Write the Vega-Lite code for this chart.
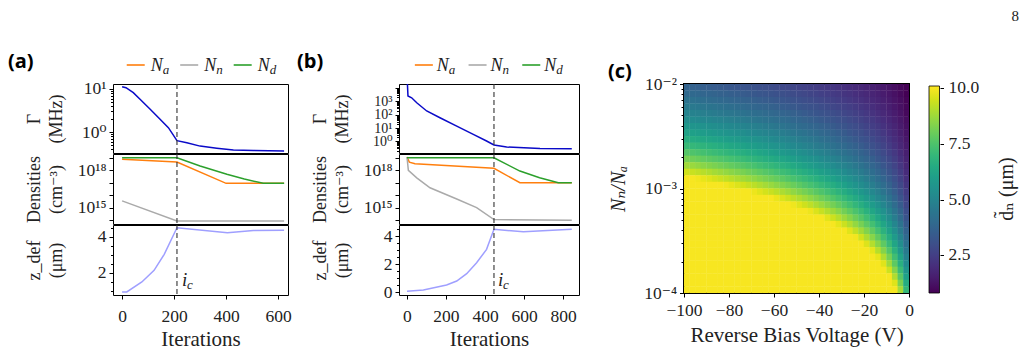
{
  "$schema": "https://vega.github.io/schema/vega-lite/v6.json",
  "autosize": {"type": "pad"},
  "padding": {"left": 8, "top": 8, "right": 4, "bottom": 4},
  "background": "white",
  "spacing": 5,
  "resolve": {"scale": {"color": "independent"}, "legend": {"color": "independent"}},
  "datasets": {
    "keys": [
      {"key": "Na", "base": "N", "sub": "a"},
      {"key": "Nn", "base": "N", "sub": "n"},
      {"key": "Nd", "base": "N", "sub": "d"}
    ],
    "icA": [{"ic": 211}],
    "icB": [{"ic": 446}],
    "gA": [
      {"it": 0, "g": 11.3}, {"it": 15, "g": 10.7}, {"it": 43, "g": 8.2}, {"it": 69, "g": 5.75},
      {"it": 108, "g": 3.38}, {"it": 146, "g": 1.97}, {"it": 178, "g": 1.26}, {"it": 211, "g": 0.63},
      {"it": 249, "g": 0.56}, {"it": 300, "g": 0.47}, {"it": 364, "g": 0.42}, {"it": 428, "g": 0.38},
      {"it": 505, "g": 0.37}, {"it": 623, "g": 0.36}
    ],
    "dA": [
      {"it": 0, "key": "Na", "n": 7.6e18}, {"it": 211, "key": "Na", "n": 4.7e18}, {"it": 400, "key": "Na", "n": 9e16}, {"it": 623, "key": "Na", "n": 9e16},
      {"it": 0, "key": "Nn", "n": 3.5e15}, {"it": 211, "key": "Nn", "n": 8.5e13}, {"it": 623, "key": "Nn", "n": 8.5e13},
      {"it": 0, "key": "Nd", "n": 1.02e19}, {"it": 211, "key": "Nd", "n": 1.0e19}, {"it": 300, "key": "Nd", "n": 2.2e18}, {"it": 403, "key": "Nd", "n": 4.8e17},
      {"it": 470, "key": "Nd", "n": 2.0e17}, {"it": 543, "key": "Nd", "n": 9e16}, {"it": 623, "key": "Nd", "n": 9e16}
    ],
    "zA": [
      {"it": 0, "z": 0.92}, {"it": 18, "z": 0.92}, {"it": 76, "z": 1.48}, {"it": 123, "z": 2.13},
      {"it": 162, "z": 3.03}, {"it": 211, "z": 4.52}, {"it": 405, "z": 4.24}, {"it": 505, "z": 4.36}, {"it": 623, "z": 4.38}
    ],
    "gB": [
      {"it": 0, "g": 100000}, {"it": 5, "g": 2500}, {"it": 24, "g": 1860}, {"it": 50, "g": 790},
      {"it": 101, "g": 190}, {"it": 169, "g": 59}, {"it": 255, "g": 14}, {"it": 340, "g": 3.4},
      {"it": 408, "g": 1.07}, {"it": 446, "g": 0.54}, {"it": 511, "g": 0.38}, {"it": 682, "g": 0.29}, {"it": 845, "g": 0.28}
    ],
    "dB": [
      {"it": 0, "key": "Na", "n": 1.17e19}, {"it": 12, "key": "Na", "n": 4.5e18}, {"it": 41, "key": "Na", "n": 3.4e18}, {"it": 446, "key": "Na", "n": 1.45e18},
      {"it": 579, "key": "Na", "n": 1e17}, {"it": 845, "key": "Na", "n": 1e17},
      {"it": 0, "key": "Nn", "n": 1.17e19}, {"it": 7, "key": "Nn", "n": 1e18}, {"it": 50, "key": "Nn", "n": 2.5e17}, {"it": 118, "key": "Nn", "n": 4e16},
      {"it": 255, "key": "Nn", "n": 5e15}, {"it": 357, "key": "Nn", "n": 1e15}, {"it": 446, "key": "Nn", "n": 1.1e14}, {"it": 845, "key": "Nn", "n": 1e14},
      {"it": 0, "key": "Nd", "n": 1.02e19}, {"it": 446, "key": "Nd", "n": 1.0e19}, {"it": 579, "key": "Nd", "n": 8.7e17}, {"it": 680, "key": "Nd", "n": 2.5e17},
      {"it": 776, "key": "Nd", "n": 1e17}, {"it": 845, "key": "Nd", "n": 1e17}
    ],
    "zB": [
      {"it": 0, "z": 0.05}, {"it": 84, "z": 0.14}, {"it": 203, "z": 0.5}, {"it": 255, "z": 0.79},
      {"it": 306, "z": 1.31}, {"it": 357, "z": 2.09}, {"it": 408, "z": 3.05}, {"it": 446, "z": 4.48},
      {"it": 597, "z": 4.31}, {"it": 845, "z": 4.48}
    ],
    "heat": [
{"v":-98.75,"r":0.009306,"d":3.71},{"v":-96.25,"r":0.009306,"d":3.66},{"v":-93.75,"r":0.009306,"d":3.62},{"v":-91.25,"r":0.009306,"d":3.57},{"v":-88.75,"r":0.009306,"d":3.52},{"v":-86.25,"r":0.009306,"d":3.47},{"v":-83.75,"r":0.009306,"d":3.42},{"v":-81.25,"r":0.009306,"d":3.38},{"v":-78.75,"r":0.009306,"d":3.32},{"v":-76.25,"r":0.009306,"d":3.27},{"v":-73.75,"r":0.009306,"d":3.22},{"v":-71.25,"r":0.009306,"d":3.17},{"v":-68.75,"r":0.009306,"d":3.11},{"v":-66.25,"r":0.009306,"d":3.06},{"v":-63.75,"r":0.009306,"d":3.0},{"v":-61.25,"r":0.009306,"d":2.95},{"v":-58.75,"r":0.009306,"d":2.89},{"v":-56.25,"r":0.009306,"d":2.83},{"v":-53.75,"r":0.009306,"d":2.77},{"v":-51.25,"r":0.009306,"d":2.71},{"v":-48.75,"r":0.009306,"d":2.64},{"v":-46.25,"r":0.009306,"d":2.58},{"v":-43.75,"r":0.009306,"d":2.51},{"v":-41.25,"r":0.009306,"d":2.45},{"v":-38.75,"r":0.009306,"d":2.37},{"v":-36.25,"r":0.009306,"d":2.3},{"v":-33.75,"r":0.009306,"d":2.23},{"v":-31.25,"r":0.009306,"d":2.15},{"v":-28.75,"r":0.009306,"d":2.07},{"v":-26.25,"r":0.009306,"d":1.99},{"v":-23.75,"r":0.009306,"d":1.9},{"v":-21.25,"r":0.009306,"d":1.81},{"v":-18.75,"r":0.009306,"d":1.71},{"v":-16.25,"r":0.009306,"d":1.61},{"v":-13.75,"r":0.009306,"d":1.5},{"v":-11.25,"r":0.009306,"d":1.39},{"v":-8.75,"r":0.009306,"d":1.26},{"v":-6.25,"r":0.009306,"d":1.12},{"v":-3.75,"r":0.009306,"d":0.95},{"v":-1.25,"r":0.009306,"d":0.75},
{"v":-98.75,"r":0.008058,"d":3.99},{"v":-96.25,"r":0.008058,"d":3.94},{"v":-93.75,"r":0.008058,"d":3.89},{"v":-91.25,"r":0.008058,"d":3.84},{"v":-88.75,"r":0.008058,"d":3.79},{"v":-86.25,"r":0.008058,"d":3.73},{"v":-83.75,"r":0.008058,"d":3.68},{"v":-81.25,"r":0.008058,"d":3.63},{"v":-78.75,"r":0.008058,"d":3.57},{"v":-76.25,"r":0.008058,"d":3.52},{"v":-73.75,"r":0.008058,"d":3.46},{"v":-71.25,"r":0.008058,"d":3.4},{"v":-68.75,"r":0.008058,"d":3.35},{"v":-66.25,"r":0.008058,"d":3.29},{"v":-63.75,"r":0.008058,"d":3.23},{"v":-61.25,"r":0.008058,"d":3.17},{"v":-58.75,"r":0.008058,"d":3.1},{"v":-56.25,"r":0.008058,"d":3.04},{"v":-53.75,"r":0.008058,"d":2.98},{"v":-51.25,"r":0.008058,"d":2.91},{"v":-48.75,"r":0.008058,"d":2.84},{"v":-46.25,"r":0.008058,"d":2.77},{"v":-43.75,"r":0.008058,"d":2.7},{"v":-41.25,"r":0.008058,"d":2.63},{"v":-38.75,"r":0.008058,"d":2.55},{"v":-36.25,"r":0.008058,"d":2.47},{"v":-33.75,"r":0.008058,"d":2.39},{"v":-31.25,"r":0.008058,"d":2.31},{"v":-28.75,"r":0.008058,"d":2.22},{"v":-26.25,"r":0.008058,"d":2.14},{"v":-23.75,"r":0.008058,"d":2.04},{"v":-21.25,"r":0.008058,"d":1.94},{"v":-18.75,"r":0.008058,"d":1.84},{"v":-16.25,"r":0.008058,"d":1.73},{"v":-13.75,"r":0.008058,"d":1.61},{"v":-11.25,"r":0.008058,"d":1.49},{"v":-8.75,"r":0.008058,"d":1.35},{"v":-6.25,"r":0.008058,"d":1.2},{"v":-3.75,"r":0.008058,"d":1.02},{"v":-1.25,"r":0.008058,"d":0.81},
{"v":-98.75,"r":0.006978,"d":4.28},{"v":-96.25,"r":0.006978,"d":4.23},{"v":-93.75,"r":0.006978,"d":4.18},{"v":-91.25,"r":0.006978,"d":4.12},{"v":-88.75,"r":0.006978,"d":4.07},{"v":-86.25,"r":0.006978,"d":4.01},{"v":-83.75,"r":0.006978,"d":3.95},{"v":-81.25,"r":0.006978,"d":3.9},{"v":-78.75,"r":0.006978,"d":3.84},{"v":-76.25,"r":0.006978,"d":3.78},{"v":-73.75,"r":0.006978,"d":3.72},{"v":-71.25,"r":0.006978,"d":3.66},{"v":-68.75,"r":0.006978,"d":3.6},{"v":-66.25,"r":0.006978,"d":3.53},{"v":-63.75,"r":0.006978,"d":3.47},{"v":-61.25,"r":0.006978,"d":3.4},{"v":-58.75,"r":0.006978,"d":3.34},{"v":-56.25,"r":0.006978,"d":3.27},{"v":-53.75,"r":0.006978,"d":3.2},{"v":-51.25,"r":0.006978,"d":3.13},{"v":-48.75,"r":0.006978,"d":3.05},{"v":-46.25,"r":0.006978,"d":2.98},{"v":-43.75,"r":0.006978,"d":2.9},{"v":-41.25,"r":0.006978,"d":2.82},{"v":-38.75,"r":0.006978,"d":2.74},{"v":-36.25,"r":0.006978,"d":2.66},{"v":-33.75,"r":0.006978,"d":2.57},{"v":-31.25,"r":0.006978,"d":2.48},{"v":-28.75,"r":0.006978,"d":2.39},{"v":-26.25,"r":0.006978,"d":2.29},{"v":-23.75,"r":0.006978,"d":2.19},{"v":-21.25,"r":0.006978,"d":2.09},{"v":-18.75,"r":0.006978,"d":1.98},{"v":-16.25,"r":0.006978,"d":1.86},{"v":-13.75,"r":0.006978,"d":1.73},{"v":-11.25,"r":0.006978,"d":1.6},{"v":-8.75,"r":0.006978,"d":1.45},{"v":-6.25,"r":0.006978,"d":1.29},{"v":-3.75,"r":0.006978,"d":1.1},{"v":-1.25,"r":0.006978,"d":0.87},
{"v":-98.75,"r":0.006043,"d":4.6},{"v":-96.25,"r":0.006043,"d":4.55},{"v":-93.75,"r":0.006043,"d":4.49},{"v":-91.25,"r":0.006043,"d":4.43},{"v":-88.75,"r":0.006043,"d":4.37},{"v":-86.25,"r":0.006043,"d":4.31},{"v":-83.75,"r":0.006043,"d":4.25},{"v":-81.25,"r":0.006043,"d":4.19},{"v":-78.75,"r":0.006043,"d":4.13},{"v":-76.25,"r":0.006043,"d":4.06},{"v":-73.75,"r":0.006043,"d":4.0},{"v":-71.25,"r":0.006043,"d":3.93},{"v":-68.75,"r":0.006043,"d":3.86},{"v":-66.25,"r":0.006043,"d":3.8},{"v":-63.75,"r":0.006043,"d":3.73},{"v":-61.25,"r":0.006043,"d":3.66},{"v":-58.75,"r":0.006043,"d":3.59},{"v":-56.25,"r":0.006043,"d":3.51},{"v":-53.75,"r":0.006043,"d":3.44},{"v":-51.25,"r":0.006043,"d":3.36},{"v":-48.75,"r":0.006043,"d":3.28},{"v":-46.25,"r":0.006043,"d":3.2},{"v":-43.75,"r":0.006043,"d":3.12},{"v":-41.25,"r":0.006043,"d":3.03},{"v":-38.75,"r":0.006043,"d":2.95},{"v":-36.25,"r":0.006043,"d":2.86},{"v":-33.75,"r":0.006043,"d":2.76},{"v":-31.25,"r":0.006043,"d":2.67},{"v":-28.75,"r":0.006043,"d":2.57},{"v":-26.25,"r":0.006043,"d":2.47},{"v":-23.75,"r":0.006043,"d":2.36},{"v":-21.25,"r":0.006043,"d":2.24},{"v":-18.75,"r":0.006043,"d":2.13},{"v":-16.25,"r":0.006043,"d":2.0},{"v":-13.75,"r":0.006043,"d":1.86},{"v":-11.25,"r":0.006043,"d":1.72},{"v":-8.75,"r":0.006043,"d":1.56},{"v":-6.25,"r":0.006043,"d":1.38},{"v":-3.75,"r":0.006043,"d":1.18},{"v":-1.25,"r":0.006043,"d":0.93},
{"v":-98.75,"r":0.005233,"d":4.95},{"v":-96.25,"r":0.005233,"d":4.89},{"v":-93.75,"r":0.005233,"d":4.82},{"v":-91.25,"r":0.005233,"d":4.76},{"v":-88.75,"r":0.005233,"d":4.7},{"v":-86.25,"r":0.005233,"d":4.63},{"v":-83.75,"r":0.005233,"d":4.57},{"v":-81.25,"r":0.005233,"d":4.5},{"v":-78.75,"r":0.005233,"d":4.43},{"v":-76.25,"r":0.005233,"d":4.36},{"v":-73.75,"r":0.005233,"d":4.3},{"v":-71.25,"r":0.005233,"d":4.22},{"v":-68.75,"r":0.005233,"d":4.15},{"v":-66.25,"r":0.005233,"d":4.08},{"v":-63.75,"r":0.005233,"d":4.0},{"v":-61.25,"r":0.005233,"d":3.93},{"v":-58.75,"r":0.005233,"d":3.85},{"v":-56.25,"r":0.005233,"d":3.77},{"v":-53.75,"r":0.005233,"d":3.69},{"v":-51.25,"r":0.005233,"d":3.61},{"v":-48.75,"r":0.005233,"d":3.53},{"v":-46.25,"r":0.005233,"d":3.44},{"v":-43.75,"r":0.005233,"d":3.35},{"v":-41.25,"r":0.005233,"d":3.26},{"v":-38.75,"r":0.005233,"d":3.17},{"v":-36.25,"r":0.005233,"d":3.07},{"v":-33.75,"r":0.005233,"d":2.97},{"v":-31.25,"r":0.005233,"d":2.87},{"v":-28.75,"r":0.005233,"d":2.76},{"v":-26.25,"r":0.005233,"d":2.65},{"v":-23.75,"r":0.005233,"d":2.53},{"v":-21.25,"r":0.005233,"d":2.41},{"v":-18.75,"r":0.005233,"d":2.28},{"v":-16.25,"r":0.005233,"d":2.15},{"v":-13.75,"r":0.005233,"d":2.0},{"v":-11.25,"r":0.005233,"d":1.85},{"v":-8.75,"r":0.005233,"d":1.68},{"v":-6.25,"r":0.005233,"d":1.49},{"v":-3.75,"r":0.005233,"d":1.27},{"v":-1.25,"r":0.005233,"d":1.0},
{"v":-98.75,"r":0.004532,"d":5.32},{"v":-96.25,"r":0.004532,"d":5.25},{"v":-93.75,"r":0.004532,"d":5.18},{"v":-91.25,"r":0.004532,"d":5.11},{"v":-88.75,"r":0.004532,"d":5.05},{"v":-86.25,"r":0.004532,"d":4.98},{"v":-83.75,"r":0.004532,"d":4.91},{"v":-81.25,"r":0.004532,"d":4.84},{"v":-78.75,"r":0.004532,"d":4.76},{"v":-76.25,"r":0.004532,"d":4.69},{"v":-73.75,"r":0.004532,"d":4.62},{"v":-71.25,"r":0.004532,"d":4.54},{"v":-68.75,"r":0.004532,"d":4.46},{"v":-66.25,"r":0.004532,"d":4.38},{"v":-63.75,"r":0.004532,"d":4.3},{"v":-61.25,"r":0.004532,"d":4.22},{"v":-58.75,"r":0.004532,"d":4.14},{"v":-56.25,"r":0.004532,"d":4.06},{"v":-53.75,"r":0.004532,"d":3.97},{"v":-51.25,"r":0.004532,"d":3.88},{"v":-48.75,"r":0.004532,"d":3.79},{"v":-46.25,"r":0.004532,"d":3.7},{"v":-43.75,"r":0.004532,"d":3.6},{"v":-41.25,"r":0.004532,"d":3.5},{"v":-38.75,"r":0.004532,"d":3.4},{"v":-36.25,"r":0.004532,"d":3.3},{"v":-33.75,"r":0.004532,"d":3.19},{"v":-31.25,"r":0.004532,"d":3.08},{"v":-28.75,"r":0.004532,"d":2.97},{"v":-26.25,"r":0.004532,"d":2.85},{"v":-23.75,"r":0.004532,"d":2.72},{"v":-21.25,"r":0.004532,"d":2.59},{"v":-18.75,"r":0.004532,"d":2.45},{"v":-16.25,"r":0.004532,"d":2.31},{"v":-13.75,"r":0.004532,"d":2.15},{"v":-11.25,"r":0.004532,"d":1.99},{"v":-8.75,"r":0.004532,"d":1.8},{"v":-6.25,"r":0.004532,"d":1.6},{"v":-3.75,"r":0.004532,"d":1.36},{"v":-1.25,"r":0.004532,"d":1.08},
{"v":-98.75,"r":0.003924,"d":5.71},{"v":-96.25,"r":0.003924,"d":5.64},{"v":-93.75,"r":0.003924,"d":5.57},{"v":-91.25,"r":0.003924,"d":5.5},{"v":-88.75,"r":0.003924,"d":5.42},{"v":-86.25,"r":0.003924,"d":5.35},{"v":-83.75,"r":0.003924,"d":5.27},{"v":-81.25,"r":0.003924,"d":5.2},{"v":-78.75,"r":0.003924,"d":5.12},{"v":-76.25,"r":0.003924,"d":5.04},{"v":-73.75,"r":0.003924,"d":4.96},{"v":-71.25,"r":0.003924,"d":4.88},{"v":-68.75,"r":0.003924,"d":4.8},{"v":-66.25,"r":0.003924,"d":4.71},{"v":-63.75,"r":0.003924,"d":4.62},{"v":-61.25,"r":0.003924,"d":4.54},{"v":-58.75,"r":0.003924,"d":4.45},{"v":-56.25,"r":0.003924,"d":4.36},{"v":-53.75,"r":0.003924,"d":4.26},{"v":-51.25,"r":0.003924,"d":4.17},{"v":-48.75,"r":0.003924,"d":4.07},{"v":-46.25,"r":0.003924,"d":3.97},{"v":-43.75,"r":0.003924,"d":3.87},{"v":-41.25,"r":0.003924,"d":3.77},{"v":-38.75,"r":0.003924,"d":3.66},{"v":-36.25,"r":0.003924,"d":3.55},{"v":-33.75,"r":0.003924,"d":3.43},{"v":-31.25,"r":0.003924,"d":3.31},{"v":-28.75,"r":0.003924,"d":3.19},{"v":-26.25,"r":0.003924,"d":3.06},{"v":-23.75,"r":0.003924,"d":2.93},{"v":-21.25,"r":0.003924,"d":2.79},{"v":-18.75,"r":0.003924,"d":2.64},{"v":-16.25,"r":0.003924,"d":2.48},{"v":-13.75,"r":0.003924,"d":2.31},{"v":-11.25,"r":0.003924,"d":2.13},{"v":-8.75,"r":0.003924,"d":1.94},{"v":-6.25,"r":0.003924,"d":1.72},{"v":-3.75,"r":0.003924,"d":1.47},{"v":-1.25,"r":0.003924,"d":1.16},
{"v":-98.75,"r":0.003398,"d":6.14},{"v":-96.25,"r":0.003398,"d":6.06},{"v":-93.75,"r":0.003398,"d":5.99},{"v":-91.25,"r":0.003398,"d":5.91},{"v":-88.75,"r":0.003398,"d":5.83},{"v":-86.25,"r":0.003398,"d":5.75},{"v":-83.75,"r":0.003398,"d":5.67},{"v":-81.25,"r":0.003398,"d":5.59},{"v":-78.75,"r":0.003398,"d":5.5},{"v":-76.25,"r":0.003398,"d":5.42},{"v":-73.75,"r":0.003398,"d":5.33},{"v":-71.25,"r":0.003398,"d":5.24},{"v":-68.75,"r":0.003398,"d":5.15},{"v":-66.25,"r":0.003398,"d":5.06},{"v":-63.75,"r":0.003398,"d":4.97},{"v":-61.25,"r":0.003398,"d":4.88},{"v":-58.75,"r":0.003398,"d":4.78},{"v":-56.25,"r":0.003398,"d":4.68},{"v":-53.75,"r":0.003398,"d":4.58},{"v":-51.25,"r":0.003398,"d":4.48},{"v":-48.75,"r":0.003398,"d":4.38},{"v":-46.25,"r":0.003398,"d":4.27},{"v":-43.75,"r":0.003398,"d":4.16},{"v":-41.25,"r":0.003398,"d":4.05},{"v":-38.75,"r":0.003398,"d":3.93},{"v":-36.25,"r":0.003398,"d":3.81},{"v":-33.75,"r":0.003398,"d":3.69},{"v":-31.25,"r":0.003398,"d":3.56},{"v":-28.75,"r":0.003398,"d":3.43},{"v":-26.25,"r":0.003398,"d":3.29},{"v":-23.75,"r":0.003398,"d":3.14},{"v":-21.25,"r":0.003398,"d":2.99},{"v":-18.75,"r":0.003398,"d":2.83},{"v":-16.25,"r":0.003398,"d":2.67},{"v":-13.75,"r":0.003398,"d":2.49},{"v":-11.25,"r":0.003398,"d":2.29},{"v":-8.75,"r":0.003398,"d":2.08},{"v":-6.25,"r":0.003398,"d":1.85},{"v":-3.75,"r":0.003398,"d":1.57},{"v":-1.25,"r":0.003398,"d":1.25},
{"v":-98.75,"r":0.002943,"d":6.6},{"v":-96.25,"r":0.002943,"d":6.51},{"v":-93.75,"r":0.002943,"d":6.43},{"v":-91.25,"r":0.002943,"d":6.35},{"v":-88.75,"r":0.002943,"d":6.26},{"v":-86.25,"r":0.002943,"d":6.18},{"v":-83.75,"r":0.002943,"d":6.09},{"v":-81.25,"r":0.002943,"d":6.0},{"v":-78.75,"r":0.002943,"d":5.91},{"v":-76.25,"r":0.002943,"d":5.82},{"v":-73.75,"r":0.002943,"d":5.73},{"v":-71.25,"r":0.002943,"d":5.63},{"v":-68.75,"r":0.002943,"d":5.54},{"v":-66.25,"r":0.002943,"d":5.44},{"v":-63.75,"r":0.002943,"d":5.34},{"v":-61.25,"r":0.002943,"d":5.24},{"v":-58.75,"r":0.002943,"d":5.14},{"v":-56.25,"r":0.002943,"d":5.03},{"v":-53.75,"r":0.002943,"d":4.92},{"v":-51.25,"r":0.002943,"d":4.82},{"v":-48.75,"r":0.002943,"d":4.7},{"v":-46.25,"r":0.002943,"d":4.59},{"v":-43.75,"r":0.002943,"d":4.47},{"v":-41.25,"r":0.002943,"d":4.35},{"v":-38.75,"r":0.002943,"d":4.22},{"v":-36.25,"r":0.002943,"d":4.09},{"v":-33.75,"r":0.002943,"d":3.96},{"v":-31.25,"r":0.002943,"d":3.83},{"v":-28.75,"r":0.002943,"d":3.68},{"v":-26.25,"r":0.002943,"d":3.53},{"v":-23.75,"r":0.002943,"d":3.38},{"v":-21.25,"r":0.002943,"d":3.22},{"v":-18.75,"r":0.002943,"d":3.05},{"v":-16.25,"r":0.002943,"d":2.86},{"v":-13.75,"r":0.002943,"d":2.67},{"v":-11.25,"r":0.002943,"d":2.46},{"v":-8.75,"r":0.002943,"d":2.24},{"v":-6.25,"r":0.002943,"d":1.98},{"v":-3.75,"r":0.002943,"d":1.69},{"v":-1.25,"r":0.002943,"d":1.34},
{"v":-98.75,"r":0.002548,"d":7.09},{"v":-96.25,"r":0.002548,"d":7.0},{"v":-93.75,"r":0.002548,"d":6.91},{"v":-91.25,"r":0.002548,"d":6.82},{"v":-88.75,"r":0.002548,"d":6.73},{"v":-86.25,"r":0.002548,"d":6.64},{"v":-83.75,"r":0.002548,"d":6.54},{"v":-81.25,"r":0.002548,"d":6.45},{"v":-78.75,"r":0.002548,"d":6.35},{"v":-76.25,"r":0.002548,"d":6.25},{"v":-73.75,"r":0.002548,"d":6.16},{"v":-71.25,"r":0.002548,"d":6.05},{"v":-68.75,"r":0.002548,"d":5.95},{"v":-66.25,"r":0.002548,"d":5.85},{"v":-63.75,"r":0.002548,"d":5.74},{"v":-61.25,"r":0.002548,"d":5.63},{"v":-58.75,"r":0.002548,"d":5.52},{"v":-56.25,"r":0.002548,"d":5.41},{"v":-53.75,"r":0.002548,"d":5.29},{"v":-51.25,"r":0.002548,"d":5.17},{"v":-48.75,"r":0.002548,"d":5.05},{"v":-46.25,"r":0.002548,"d":4.93},{"v":-43.75,"r":0.002548,"d":4.8},{"v":-41.25,"r":0.002548,"d":4.67},{"v":-38.75,"r":0.002548,"d":4.54},{"v":-36.25,"r":0.002548,"d":4.4},{"v":-33.75,"r":0.002548,"d":4.26},{"v":-31.25,"r":0.002548,"d":4.11},{"v":-28.75,"r":0.002548,"d":3.96},{"v":-26.25,"r":0.002548,"d":3.8},{"v":-23.75,"r":0.002548,"d":3.63},{"v":-21.25,"r":0.002548,"d":3.46},{"v":-18.75,"r":0.002548,"d":3.27},{"v":-16.25,"r":0.002548,"d":3.08},{"v":-13.75,"r":0.002548,"d":2.87},{"v":-11.25,"r":0.002548,"d":2.65},{"v":-8.75,"r":0.002548,"d":2.4},{"v":-6.25,"r":0.002548,"d":2.13},{"v":-3.75,"r":0.002548,"d":1.82},{"v":-1.25,"r":0.002548,"d":1.44},
{"v":-98.75,"r":0.002207,"d":7.62},{"v":-96.25,"r":0.002207,"d":7.52},{"v":-93.75,"r":0.002207,"d":7.43},{"v":-91.25,"r":0.002207,"d":7.33},{"v":-88.75,"r":0.002207,"d":7.23},{"v":-86.25,"r":0.002207,"d":7.13},{"v":-83.75,"r":0.002207,"d":7.03},{"v":-81.25,"r":0.002207,"d":6.93},{"v":-78.75,"r":0.002207,"d":6.83},{"v":-76.25,"r":0.002207,"d":6.72},{"v":-73.75,"r":0.002207,"d":6.61},{"v":-71.25,"r":0.002207,"d":6.51},{"v":-68.75,"r":0.002207,"d":6.4},{"v":-66.25,"r":0.002207,"d":6.28},{"v":-63.75,"r":0.002207,"d":6.17},{"v":-61.25,"r":0.002207,"d":6.05},{"v":-58.75,"r":0.002207,"d":5.93},{"v":-56.25,"r":0.002207,"d":5.81},{"v":-53.75,"r":0.002207,"d":5.69},{"v":-51.25,"r":0.002207,"d":5.56},{"v":-48.75,"r":0.002207,"d":5.43},{"v":-46.25,"r":0.002207,"d":5.3},{"v":-43.75,"r":0.002207,"d":5.16},{"v":-41.25,"r":0.002207,"d":5.02},{"v":-38.75,"r":0.002207,"d":4.88},{"v":-36.25,"r":0.002207,"d":4.73},{"v":-33.75,"r":0.002207,"d":4.57},{"v":-31.25,"r":0.002207,"d":4.42},{"v":-28.75,"r":0.002207,"d":4.25},{"v":-26.25,"r":0.002207,"d":4.08},{"v":-23.75,"r":0.002207,"d":3.9},{"v":-21.25,"r":0.002207,"d":3.71},{"v":-18.75,"r":0.002207,"d":3.52},{"v":-16.25,"r":0.002207,"d":3.31},{"v":-13.75,"r":0.002207,"d":3.08},{"v":-11.25,"r":0.002207,"d":2.85},{"v":-8.75,"r":0.002207,"d":2.58},{"v":-6.25,"r":0.002207,"d":2.29},{"v":-3.75,"r":0.002207,"d":1.95},{"v":-1.25,"r":0.002207,"d":1.55},
{"v":-98.75,"r":0.001911,"d":8.19},{"v":-96.25,"r":0.001911,"d":8.08},{"v":-93.75,"r":0.001911,"d":7.98},{"v":-91.25,"r":0.001911,"d":7.88},{"v":-88.75,"r":0.001911,"d":7.77},{"v":-86.25,"r":0.001911,"d":7.67},{"v":-83.75,"r":0.001911,"d":7.56},{"v":-81.25,"r":0.001911,"d":7.45},{"v":-78.75,"r":0.001911,"d":7.34},{"v":-76.25,"r":0.001911,"d":7.22},{"v":-73.75,"r":0.001911,"d":7.11},{"v":-71.25,"r":0.001911,"d":6.99},{"v":-68.75,"r":0.001911,"d":6.87},{"v":-66.25,"r":0.001911,"d":6.75},{"v":-63.75,"r":0.001911,"d":6.63},{"v":-61.25,"r":0.001911,"d":6.5},{"v":-58.75,"r":0.001911,"d":6.38},{"v":-56.25,"r":0.001911,"d":6.25},{"v":-53.75,"r":0.001911,"d":6.11},{"v":-51.25,"r":0.001911,"d":5.98},{"v":-48.75,"r":0.001911,"d":5.84},{"v":-46.25,"r":0.001911,"d":5.69},{"v":-43.75,"r":0.001911,"d":5.55},{"v":-41.25,"r":0.001911,"d":5.4},{"v":-38.75,"r":0.001911,"d":5.24},{"v":-36.25,"r":0.001911,"d":5.08},{"v":-33.75,"r":0.001911,"d":4.92},{"v":-31.25,"r":0.001911,"d":4.75},{"v":-28.75,"r":0.001911,"d":4.57},{"v":-26.25,"r":0.001911,"d":4.39},{"v":-23.75,"r":0.001911,"d":4.19},{"v":-21.25,"r":0.001911,"d":3.99},{"v":-18.75,"r":0.001911,"d":3.78},{"v":-16.25,"r":0.001911,"d":3.56},{"v":-13.75,"r":0.001911,"d":3.31},{"v":-11.25,"r":0.001911,"d":3.06},{"v":-8.75,"r":0.001911,"d":2.78},{"v":-6.25,"r":0.001911,"d":2.46},{"v":-3.75,"r":0.001911,"d":2.1},{"v":-1.25,"r":0.001911,"d":1.66},
{"v":-98.75,"r":0.001655,"d":8.8},{"v":-96.25,"r":0.001655,"d":8.69},{"v":-93.75,"r":0.001655,"d":8.58},{"v":-91.25,"r":0.001655,"d":8.46},{"v":-88.75,"r":0.001655,"d":8.35},{"v":-86.25,"r":0.001655,"d":8.24},{"v":-83.75,"r":0.001655,"d":8.12},{"v":-81.25,"r":0.001655,"d":8.0},{"v":-78.75,"r":0.001655,"d":7.88},{"v":-76.25,"r":0.001655,"d":7.76},{"v":-73.75,"r":0.001655,"d":7.64},{"v":-71.25,"r":0.001655,"d":7.51},{"v":-68.75,"r":0.001655,"d":7.39},{"v":-66.25,"r":0.001655,"d":7.25},{"v":-63.75,"r":0.001655,"d":7.12},{"v":-61.25,"r":0.001655,"d":6.99},{"v":-58.75,"r":0.001655,"d":6.85},{"v":-56.25,"r":0.001655,"d":6.71},{"v":-53.75,"r":0.001655,"d":6.57},{"v":-51.25,"r":0.001655,"d":6.42},{"v":-48.75,"r":0.001655,"d":6.27},{"v":-46.25,"r":0.001655,"d":6.12},{"v":-43.75,"r":0.001655,"d":5.96},{"v":-41.25,"r":0.001655,"d":5.8},{"v":-38.75,"r":0.001655,"d":5.63},{"v":-36.25,"r":0.001655,"d":5.46},{"v":-33.75,"r":0.001655,"d":5.28},{"v":-31.25,"r":0.001655,"d":5.1},{"v":-28.75,"r":0.001655,"d":4.91},{"v":-26.25,"r":0.001655,"d":4.71},{"v":-23.75,"r":0.001655,"d":4.51},{"v":-21.25,"r":0.001655,"d":4.29},{"v":-18.75,"r":0.001655,"d":4.06},{"v":-16.25,"r":0.001655,"d":3.82},{"v":-13.75,"r":0.001655,"d":3.56},{"v":-11.25,"r":0.001655,"d":3.29},{"v":-8.75,"r":0.001655,"d":2.98},{"v":-6.25,"r":0.001655,"d":2.65},{"v":-3.75,"r":0.001655,"d":2.26},{"v":-1.25,"r":0.001655,"d":1.78},
{"v":-98.75,"r":0.001433,"d":9.45},{"v":-96.25,"r":0.001433,"d":9.34},{"v":-93.75,"r":0.001433,"d":9.22},{"v":-91.25,"r":0.001433,"d":9.1},{"v":-88.75,"r":0.001433,"d":8.98},{"v":-86.25,"r":0.001433,"d":8.85},{"v":-83.75,"r":0.001433,"d":8.73},{"v":-81.25,"r":0.001433,"d":8.6},{"v":-78.75,"r":0.001433,"d":8.47},{"v":-76.25,"r":0.001433,"d":8.34},{"v":-73.75,"r":0.001433,"d":8.21},{"v":-71.25,"r":0.001433,"d":8.07},{"v":-68.75,"r":0.001433,"d":7.94},{"v":-66.25,"r":0.001433,"d":7.8},{"v":-63.75,"r":0.001433,"d":7.65},{"v":-61.25,"r":0.001433,"d":7.51},{"v":-58.75,"r":0.001433,"d":7.36},{"v":-56.25,"r":0.001433,"d":7.21},{"v":-53.75,"r":0.001433,"d":7.06},{"v":-51.25,"r":0.001433,"d":6.9},{"v":-48.75,"r":0.001433,"d":6.74},{"v":-46.25,"r":0.001433,"d":6.58},{"v":-43.75,"r":0.001433,"d":6.4},{"v":-41.25,"r":0.001433,"d":6.23},{"v":-38.75,"r":0.001433,"d":6.05},{"v":-36.25,"r":0.001433,"d":5.87},{"v":-33.75,"r":0.001433,"d":5.68},{"v":-31.25,"r":0.001433,"d":5.48},{"v":-28.75,"r":0.001433,"d":5.28},{"v":-26.25,"r":0.001433,"d":5.06},{"v":-23.75,"r":0.001433,"d":4.84},{"v":-21.25,"r":0.001433,"d":4.61},{"v":-18.75,"r":0.001433,"d":4.36},{"v":-16.25,"r":0.001433,"d":4.11},{"v":-13.75,"r":0.001433,"d":3.83},{"v":-11.25,"r":0.001433,"d":3.53},{"v":-8.75,"r":0.001433,"d":3.2},{"v":-6.25,"r":0.001433,"d":2.84},{"v":-3.75,"r":0.001433,"d":2.43},{"v":-1.25,"r":0.001433,"d":1.92},
{"v":-98.75,"r":0.001241,"d":10},{"v":-96.25,"r":0.001241,"d":10},{"v":-93.75,"r":0.001241,"d":9.91},{"v":-91.25,"r":0.001241,"d":9.77},{"v":-88.75,"r":0.001241,"d":9.65},{"v":-86.25,"r":0.001241,"d":9.51},{"v":-83.75,"r":0.001241,"d":9.38},{"v":-81.25,"r":0.001241,"d":9.24},{"v":-78.75,"r":0.001241,"d":9.1},{"v":-76.25,"r":0.001241,"d":8.96},{"v":-73.75,"r":0.001241,"d":8.82},{"v":-71.25,"r":0.001241,"d":8.68},{"v":-68.75,"r":0.001241,"d":8.53},{"v":-66.25,"r":0.001241,"d":8.38},{"v":-63.75,"r":0.001241,"d":8.22},{"v":-61.25,"r":0.001241,"d":8.07},{"v":-58.75,"r":0.001241,"d":7.91},{"v":-56.25,"r":0.001241,"d":7.75},{"v":-53.75,"r":0.001241,"d":7.58},{"v":-51.25,"r":0.001241,"d":7.42},{"v":-48.75,"r":0.001241,"d":7.24},{"v":-46.25,"r":0.001241,"d":7.07},{"v":-43.75,"r":0.001241,"d":6.88},{"v":-41.25,"r":0.001241,"d":6.7},{"v":-38.75,"r":0.001241,"d":6.5},{"v":-36.25,"r":0.001241,"d":6.31},{"v":-33.75,"r":0.001241,"d":6.1},{"v":-31.25,"r":0.001241,"d":5.89},{"v":-28.75,"r":0.001241,"d":5.67},{"v":-26.25,"r":0.001241,"d":5.44},{"v":-23.75,"r":0.001241,"d":5.2},{"v":-21.25,"r":0.001241,"d":4.95},{"v":-18.75,"r":0.001241,"d":4.69},{"v":-16.25,"r":0.001241,"d":4.41},{"v":-13.75,"r":0.001241,"d":4.11},{"v":-11.25,"r":0.001241,"d":3.8},{"v":-8.75,"r":0.001241,"d":3.44},{"v":-6.25,"r":0.001241,"d":3.05},{"v":-3.75,"r":0.001241,"d":2.61},{"v":-1.25,"r":0.001241,"d":2.06},
{"v":-98.75,"r":0.001075,"d":10},{"v":-96.25,"r":0.001075,"d":10},{"v":-93.75,"r":0.001075,"d":10},{"v":-91.25,"r":0.001075,"d":10},{"v":-88.75,"r":0.001075,"d":10},{"v":-86.25,"r":0.001075,"d":10},{"v":-83.75,"r":0.001075,"d":10},{"v":-81.25,"r":0.001075,"d":9.93},{"v":-78.75,"r":0.001075,"d":9.78},{"v":-76.25,"r":0.001075,"d":9.63},{"v":-73.75,"r":0.001075,"d":9.48},{"v":-71.25,"r":0.001075,"d":9.32},{"v":-68.75,"r":0.001075,"d":9.16},{"v":-66.25,"r":0.001075,"d":9.0},{"v":-63.75,"r":0.001075,"d":8.84},{"v":-61.25,"r":0.001075,"d":8.67},{"v":-58.75,"r":0.001075,"d":8.5},{"v":-56.25,"r":0.001075,"d":8.33},{"v":-53.75,"r":0.001075,"d":8.15},{"v":-51.25,"r":0.001075,"d":7.97},{"v":-48.75,"r":0.001075,"d":7.78},{"v":-46.25,"r":0.001075,"d":7.59},{"v":-43.75,"r":0.001075,"d":7.39},{"v":-41.25,"r":0.001075,"d":7.2},{"v":-38.75,"r":0.001075,"d":6.99},{"v":-36.25,"r":0.001075,"d":6.78},{"v":-33.75,"r":0.001075,"d":6.56},{"v":-31.25,"r":0.001075,"d":6.33},{"v":-28.75,"r":0.001075,"d":6.09},{"v":-26.25,"r":0.001075,"d":5.85},{"v":-23.75,"r":0.001075,"d":5.59},{"v":-21.25,"r":0.001075,"d":5.32},{"v":-18.75,"r":0.001075,"d":5.04},{"v":-16.25,"r":0.001075,"d":4.74},{"v":-13.75,"r":0.001075,"d":4.42},{"v":-11.25,"r":0.001075,"d":4.08},{"v":-8.75,"r":0.001075,"d":3.7},{"v":-6.25,"r":0.001075,"d":3.28},{"v":-3.75,"r":0.001075,"d":2.8},{"v":-1.25,"r":0.001075,"d":2.21},
{"v":-98.75,"r":0.0009306,"d":10},{"v":-96.25,"r":0.0009306,"d":10},{"v":-93.75,"r":0.0009306,"d":10},{"v":-91.25,"r":0.0009306,"d":10},{"v":-88.75,"r":0.0009306,"d":10},{"v":-86.25,"r":0.0009306,"d":10},{"v":-83.75,"r":0.0009306,"d":10},{"v":-81.25,"r":0.0009306,"d":10},{"v":-78.75,"r":0.0009306,"d":10},{"v":-76.25,"r":0.0009306,"d":10},{"v":-73.75,"r":0.0009306,"d":10},{"v":-71.25,"r":0.0009306,"d":10},{"v":-68.75,"r":0.0009306,"d":9.85},{"v":-66.25,"r":0.0009306,"d":9.67},{"v":-63.75,"r":0.0009306,"d":9.5},{"v":-61.25,"r":0.0009306,"d":9.32},{"v":-58.75,"r":0.0009306,"d":9.14},{"v":-56.25,"r":0.0009306,"d":8.95},{"v":-53.75,"r":0.0009306,"d":8.76},{"v":-51.25,"r":0.0009306,"d":8.56},{"v":-48.75,"r":0.0009306,"d":8.36},{"v":-46.25,"r":0.0009306,"d":8.16},{"v":-43.75,"r":0.0009306,"d":7.95},{"v":-41.25,"r":0.0009306,"d":7.73},{"v":-38.75,"r":0.0009306,"d":7.51},{"v":-36.25,"r":0.0009306,"d":7.28},{"v":-33.75,"r":0.0009306,"d":7.05},{"v":-31.25,"r":0.0009306,"d":6.8},{"v":-28.75,"r":0.0009306,"d":6.55},{"v":-26.25,"r":0.0009306,"d":6.28},{"v":-23.75,"r":0.0009306,"d":6.01},{"v":-21.25,"r":0.0009306,"d":5.72},{"v":-18.75,"r":0.0009306,"d":5.42},{"v":-16.25,"r":0.0009306,"d":5.09},{"v":-13.75,"r":0.0009306,"d":4.75},{"v":-11.25,"r":0.0009306,"d":4.38},{"v":-8.75,"r":0.0009306,"d":3.98},{"v":-6.25,"r":0.0009306,"d":3.53},{"v":-3.75,"r":0.0009306,"d":3.01},{"v":-1.25,"r":0.0009306,"d":2.38},
{"v":-98.75,"r":0.0008058,"d":10},{"v":-96.25,"r":0.0008058,"d":10},{"v":-93.75,"r":0.0008058,"d":10},{"v":-91.25,"r":0.0008058,"d":10},{"v":-88.75,"r":0.0008058,"d":10},{"v":-86.25,"r":0.0008058,"d":10},{"v":-83.75,"r":0.0008058,"d":10},{"v":-81.25,"r":0.0008058,"d":10},{"v":-78.75,"r":0.0008058,"d":10},{"v":-76.25,"r":0.0008058,"d":10},{"v":-73.75,"r":0.0008058,"d":10},{"v":-71.25,"r":0.0008058,"d":10},{"v":-68.75,"r":0.0008058,"d":10},{"v":-66.25,"r":0.0008058,"d":10},{"v":-63.75,"r":0.0008058,"d":10},{"v":-61.25,"r":0.0008058,"d":10},{"v":-58.75,"r":0.0008058,"d":9.82},{"v":-56.25,"r":0.0008058,"d":9.62},{"v":-53.75,"r":0.0008058,"d":9.41},{"v":-51.25,"r":0.0008058,"d":9.2},{"v":-48.75,"r":0.0008058,"d":8.99},{"v":-46.25,"r":0.0008058,"d":8.77},{"v":-43.75,"r":0.0008058,"d":8.54},{"v":-41.25,"r":0.0008058,"d":8.31},{"v":-38.75,"r":0.0008058,"d":8.07},{"v":-36.25,"r":0.0008058,"d":7.82},{"v":-33.75,"r":0.0008058,"d":7.57},{"v":-31.25,"r":0.0008058,"d":7.31},{"v":-28.75,"r":0.0008058,"d":7.04},{"v":-26.25,"r":0.0008058,"d":6.75},{"v":-23.75,"r":0.0008058,"d":6.46},{"v":-21.25,"r":0.0008058,"d":6.15},{"v":-18.75,"r":0.0008058,"d":5.82},{"v":-16.25,"r":0.0008058,"d":5.47},{"v":-13.75,"r":0.0008058,"d":5.1},{"v":-11.25,"r":0.0008058,"d":4.71},{"v":-8.75,"r":0.0008058,"d":4.27},{"v":-6.25,"r":0.0008058,"d":3.79},{"v":-3.75,"r":0.0008058,"d":3.23},{"v":-1.25,"r":0.0008058,"d":2.56},
{"v":-98.75,"r":0.0006978,"d":10},{"v":-96.25,"r":0.0006978,"d":10},{"v":-93.75,"r":0.0006978,"d":10},{"v":-91.25,"r":0.0006978,"d":10},{"v":-88.75,"r":0.0006978,"d":10},{"v":-86.25,"r":0.0006978,"d":10},{"v":-83.75,"r":0.0006978,"d":10},{"v":-81.25,"r":0.0006978,"d":10},{"v":-78.75,"r":0.0006978,"d":10},{"v":-76.25,"r":0.0006978,"d":10},{"v":-73.75,"r":0.0006978,"d":10},{"v":-71.25,"r":0.0006978,"d":10},{"v":-68.75,"r":0.0006978,"d":10},{"v":-66.25,"r":0.0006978,"d":10},{"v":-63.75,"r":0.0006978,"d":10},{"v":-61.25,"r":0.0006978,"d":10},{"v":-58.75,"r":0.0006978,"d":10},{"v":-56.25,"r":0.0006978,"d":10},{"v":-53.75,"r":0.0006978,"d":10},{"v":-51.25,"r":0.0006978,"d":9.89},{"v":-48.75,"r":0.0006978,"d":9.66},{"v":-46.25,"r":0.0006978,"d":9.42},{"v":-43.75,"r":0.0006978,"d":9.18},{"v":-41.25,"r":0.0006978,"d":8.93},{"v":-38.75,"r":0.0006978,"d":8.67},{"v":-36.25,"r":0.0006978,"d":8.41},{"v":-33.75,"r":0.0006978,"d":8.14},{"v":-31.25,"r":0.0006978,"d":7.86},{"v":-28.75,"r":0.0006978,"d":7.56},{"v":-26.25,"r":0.0006978,"d":7.26},{"v":-23.75,"r":0.0006978,"d":6.94},{"v":-21.25,"r":0.0006978,"d":6.61},{"v":-18.75,"r":0.0006978,"d":6.25},{"v":-16.25,"r":0.0006978,"d":5.88},{"v":-13.75,"r":0.0006978,"d":5.49},{"v":-11.25,"r":0.0006978,"d":5.06},{"v":-8.75,"r":0.0006978,"d":4.59},{"v":-6.25,"r":0.0006978,"d":4.07},{"v":-3.75,"r":0.0006978,"d":3.48},{"v":-1.25,"r":0.0006978,"d":2.75},
{"v":-98.75,"r":0.0006043,"d":10},{"v":-96.25,"r":0.0006043,"d":10},{"v":-93.75,"r":0.0006043,"d":10},{"v":-91.25,"r":0.0006043,"d":10},{"v":-88.75,"r":0.0006043,"d":10},{"v":-86.25,"r":0.0006043,"d":10},{"v":-83.75,"r":0.0006043,"d":10},{"v":-81.25,"r":0.0006043,"d":10},{"v":-78.75,"r":0.0006043,"d":10},{"v":-76.25,"r":0.0006043,"d":10},{"v":-73.75,"r":0.0006043,"d":10},{"v":-71.25,"r":0.0006043,"d":10},{"v":-68.75,"r":0.0006043,"d":10},{"v":-66.25,"r":0.0006043,"d":10},{"v":-63.75,"r":0.0006043,"d":10},{"v":-61.25,"r":0.0006043,"d":10},{"v":-58.75,"r":0.0006043,"d":10},{"v":-56.25,"r":0.0006043,"d":10},{"v":-53.75,"r":0.0006043,"d":10},{"v":-51.25,"r":0.0006043,"d":10},{"v":-48.75,"r":0.0006043,"d":10},{"v":-46.25,"r":0.0006043,"d":10},{"v":-43.75,"r":0.0006043,"d":9.86},{"v":-41.25,"r":0.0006043,"d":9.6},{"v":-38.75,"r":0.0006043,"d":9.32},{"v":-36.25,"r":0.0006043,"d":9.04},{"v":-33.75,"r":0.0006043,"d":8.74},{"v":-31.25,"r":0.0006043,"d":8.44},{"v":-28.75,"r":0.0006043,"d":8.12},{"v":-26.25,"r":0.0006043,"d":7.8},{"v":-23.75,"r":0.0006043,"d":7.46},{"v":-21.25,"r":0.0006043,"d":7.1},{"v":-18.75,"r":0.0006043,"d":6.72},{"v":-16.25,"r":0.0006043,"d":6.32},{"v":-13.75,"r":0.0006043,"d":5.89},{"v":-11.25,"r":0.0006043,"d":5.44},{"v":-8.75,"r":0.0006043,"d":4.93},{"v":-6.25,"r":0.0006043,"d":4.38},{"v":-3.75,"r":0.0006043,"d":3.73},{"v":-1.25,"r":0.0006043,"d":2.95},
{"v":-98.75,"r":0.0005233,"d":10},{"v":-96.25,"r":0.0005233,"d":10},{"v":-93.75,"r":0.0005233,"d":10},{"v":-91.25,"r":0.0005233,"d":10},{"v":-88.75,"r":0.0005233,"d":10},{"v":-86.25,"r":0.0005233,"d":10},{"v":-83.75,"r":0.0005233,"d":10},{"v":-81.25,"r":0.0005233,"d":10},{"v":-78.75,"r":0.0005233,"d":10},{"v":-76.25,"r":0.0005233,"d":10},{"v":-73.75,"r":0.0005233,"d":10},{"v":-71.25,"r":0.0005233,"d":10},{"v":-68.75,"r":0.0005233,"d":10},{"v":-66.25,"r":0.0005233,"d":10},{"v":-63.75,"r":0.0005233,"d":10},{"v":-61.25,"r":0.0005233,"d":10},{"v":-58.75,"r":0.0005233,"d":10},{"v":-56.25,"r":0.0005233,"d":10},{"v":-53.75,"r":0.0005233,"d":10},{"v":-51.25,"r":0.0005233,"d":10},{"v":-48.75,"r":0.0005233,"d":10},{"v":-46.25,"r":0.0005233,"d":10},{"v":-43.75,"r":0.0005233,"d":10},{"v":-41.25,"r":0.0005233,"d":10},{"v":-38.75,"r":0.0005233,"d":10},{"v":-36.25,"r":0.0005233,"d":9.71},{"v":-33.75,"r":0.0005233,"d":9.39},{"v":-31.25,"r":0.0005233,"d":9.07},{"v":-28.75,"r":0.0005233,"d":8.73},{"v":-26.25,"r":0.0005233,"d":8.38},{"v":-23.75,"r":0.0005233,"d":8.01},{"v":-21.25,"r":0.0005233,"d":7.63},{"v":-18.75,"r":0.0005233,"d":7.22},{"v":-16.25,"r":0.0005233,"d":6.79},{"v":-13.75,"r":0.0005233,"d":6.33},{"v":-11.25,"r":0.0005233,"d":5.85},{"v":-8.75,"r":0.0005233,"d":5.3},{"v":-6.25,"r":0.0005233,"d":4.7},{"v":-3.75,"r":0.0005233,"d":4.01},{"v":-1.25,"r":0.0005233,"d":3.17},
{"v":-98.75,"r":0.0004532,"d":10},{"v":-96.25,"r":0.0004532,"d":10},{"v":-93.75,"r":0.0004532,"d":10},{"v":-91.25,"r":0.0004532,"d":10},{"v":-88.75,"r":0.0004532,"d":10},{"v":-86.25,"r":0.0004532,"d":10},{"v":-83.75,"r":0.0004532,"d":10},{"v":-81.25,"r":0.0004532,"d":10},{"v":-78.75,"r":0.0004532,"d":10},{"v":-76.25,"r":0.0004532,"d":10},{"v":-73.75,"r":0.0004532,"d":10},{"v":-71.25,"r":0.0004532,"d":10},{"v":-68.75,"r":0.0004532,"d":10},{"v":-66.25,"r":0.0004532,"d":10},{"v":-63.75,"r":0.0004532,"d":10},{"v":-61.25,"r":0.0004532,"d":10},{"v":-58.75,"r":0.0004532,"d":10},{"v":-56.25,"r":0.0004532,"d":10},{"v":-53.75,"r":0.0004532,"d":10},{"v":-51.25,"r":0.0004532,"d":10},{"v":-48.75,"r":0.0004532,"d":10},{"v":-46.25,"r":0.0004532,"d":10},{"v":-43.75,"r":0.0004532,"d":10},{"v":-41.25,"r":0.0004532,"d":10},{"v":-38.75,"r":0.0004532,"d":10},{"v":-36.25,"r":0.0004532,"d":10},{"v":-33.75,"r":0.0004532,"d":10},{"v":-31.25,"r":0.0004532,"d":9.75},{"v":-28.75,"r":0.0004532,"d":9.38},{"v":-26.25,"r":0.0004532,"d":9.01},{"v":-23.75,"r":0.0004532,"d":8.61},{"v":-21.25,"r":0.0004532,"d":8.2},{"v":-18.75,"r":0.0004532,"d":7.76},{"v":-16.25,"r":0.0004532,"d":7.3},{"v":-13.75,"r":0.0004532,"d":6.81},{"v":-11.25,"r":0.0004532,"d":6.28},{"v":-8.75,"r":0.0004532,"d":5.7},{"v":-6.25,"r":0.0004532,"d":5.06},{"v":-3.75,"r":0.0004532,"d":4.31},{"v":-1.25,"r":0.0004532,"d":3.41},
{"v":-98.75,"r":0.0003924,"d":10},{"v":-96.25,"r":0.0003924,"d":10},{"v":-93.75,"r":0.0003924,"d":10},{"v":-91.25,"r":0.0003924,"d":10},{"v":-88.75,"r":0.0003924,"d":10},{"v":-86.25,"r":0.0003924,"d":10},{"v":-83.75,"r":0.0003924,"d":10},{"v":-81.25,"r":0.0003924,"d":10},{"v":-78.75,"r":0.0003924,"d":10},{"v":-76.25,"r":0.0003924,"d":10},{"v":-73.75,"r":0.0003924,"d":10},{"v":-71.25,"r":0.0003924,"d":10},{"v":-68.75,"r":0.0003924,"d":10},{"v":-66.25,"r":0.0003924,"d":10},{"v":-63.75,"r":0.0003924,"d":10},{"v":-61.25,"r":0.0003924,"d":10},{"v":-58.75,"r":0.0003924,"d":10},{"v":-56.25,"r":0.0003924,"d":10},{"v":-53.75,"r":0.0003924,"d":10},{"v":-51.25,"r":0.0003924,"d":10},{"v":-48.75,"r":0.0003924,"d":10},{"v":-46.25,"r":0.0003924,"d":10},{"v":-43.75,"r":0.0003924,"d":10},{"v":-41.25,"r":0.0003924,"d":10},{"v":-38.75,"r":0.0003924,"d":10},{"v":-36.25,"r":0.0003924,"d":10},{"v":-33.75,"r":0.0003924,"d":10},{"v":-31.25,"r":0.0003924,"d":10},{"v":-28.75,"r":0.0003924,"d":10},{"v":-26.25,"r":0.0003924,"d":9.68},{"v":-23.75,"r":0.0003924,"d":9.25},{"v":-21.25,"r":0.0003924,"d":8.81},{"v":-18.75,"r":0.0003924,"d":8.34},{"v":-16.25,"r":0.0003924,"d":7.85},{"v":-13.75,"r":0.0003924,"d":7.32},{"v":-11.25,"r":0.0003924,"d":6.75},{"v":-8.75,"r":0.0003924,"d":6.12},{"v":-6.25,"r":0.0003924,"d":5.43},{"v":-3.75,"r":0.0003924,"d":4.63},{"v":-1.25,"r":0.0003924,"d":3.67},
{"v":-98.75,"r":0.0003398,"d":10},{"v":-96.25,"r":0.0003398,"d":10},{"v":-93.75,"r":0.0003398,"d":10},{"v":-91.25,"r":0.0003398,"d":10},{"v":-88.75,"r":0.0003398,"d":10},{"v":-86.25,"r":0.0003398,"d":10},{"v":-83.75,"r":0.0003398,"d":10},{"v":-81.25,"r":0.0003398,"d":10},{"v":-78.75,"r":0.0003398,"d":10},{"v":-76.25,"r":0.0003398,"d":10},{"v":-73.75,"r":0.0003398,"d":10},{"v":-71.25,"r":0.0003398,"d":10},{"v":-68.75,"r":0.0003398,"d":10},{"v":-66.25,"r":0.0003398,"d":10},{"v":-63.75,"r":0.0003398,"d":10},{"v":-61.25,"r":0.0003398,"d":10},{"v":-58.75,"r":0.0003398,"d":10},{"v":-56.25,"r":0.0003398,"d":10},{"v":-53.75,"r":0.0003398,"d":10},{"v":-51.25,"r":0.0003398,"d":10},{"v":-48.75,"r":0.0003398,"d":10},{"v":-46.25,"r":0.0003398,"d":10},{"v":-43.75,"r":0.0003398,"d":10},{"v":-41.25,"r":0.0003398,"d":10},{"v":-38.75,"r":0.0003398,"d":10},{"v":-36.25,"r":0.0003398,"d":10},{"v":-33.75,"r":0.0003398,"d":10},{"v":-31.25,"r":0.0003398,"d":10},{"v":-28.75,"r":0.0003398,"d":10},{"v":-26.25,"r":0.0003398,"d":10},{"v":-23.75,"r":0.0003398,"d":9.94},{"v":-21.25,"r":0.0003398,"d":9.47},{"v":-18.75,"r":0.0003398,"d":8.96},{"v":-16.25,"r":0.0003398,"d":8.43},{"v":-13.75,"r":0.0003398,"d":7.86},{"v":-11.25,"r":0.0003398,"d":7.25},{"v":-8.75,"r":0.0003398,"d":6.58},{"v":-6.25,"r":0.0003398,"d":5.84},{"v":-3.75,"r":0.0003398,"d":4.98},{"v":-1.25,"r":0.0003398,"d":3.94},
{"v":-98.75,"r":0.0002943,"d":10},{"v":-96.25,"r":0.0002943,"d":10},{"v":-93.75,"r":0.0002943,"d":10},{"v":-91.25,"r":0.0002943,"d":10},{"v":-88.75,"r":0.0002943,"d":10},{"v":-86.25,"r":0.0002943,"d":10},{"v":-83.75,"r":0.0002943,"d":10},{"v":-81.25,"r":0.0002943,"d":10},{"v":-78.75,"r":0.0002943,"d":10},{"v":-76.25,"r":0.0002943,"d":10},{"v":-73.75,"r":0.0002943,"d":10},{"v":-71.25,"r":0.0002943,"d":10},{"v":-68.75,"r":0.0002943,"d":10},{"v":-66.25,"r":0.0002943,"d":10},{"v":-63.75,"r":0.0002943,"d":10},{"v":-61.25,"r":0.0002943,"d":10},{"v":-58.75,"r":0.0002943,"d":10},{"v":-56.25,"r":0.0002943,"d":10},{"v":-53.75,"r":0.0002943,"d":10},{"v":-51.25,"r":0.0002943,"d":10},{"v":-48.75,"r":0.0002943,"d":10},{"v":-46.25,"r":0.0002943,"d":10},{"v":-43.75,"r":0.0002943,"d":10},{"v":-41.25,"r":0.0002943,"d":10},{"v":-38.75,"r":0.0002943,"d":10},{"v":-36.25,"r":0.0002943,"d":10},{"v":-33.75,"r":0.0002943,"d":10},{"v":-31.25,"r":0.0002943,"d":10},{"v":-28.75,"r":0.0002943,"d":10},{"v":-26.25,"r":0.0002943,"d":10},{"v":-23.75,"r":0.0002943,"d":10},{"v":-21.25,"r":0.0002943,"d":10},{"v":-18.75,"r":0.0002943,"d":9.63},{"v":-16.25,"r":0.0002943,"d":9.06},{"v":-13.75,"r":0.0002943,"d":8.45},{"v":-11.25,"r":0.0002943,"d":7.79},{"v":-8.75,"r":0.0002943,"d":7.07},{"v":-6.25,"r":0.0002943,"d":6.27},{"v":-3.75,"r":0.0002943,"d":5.35},{"v":-1.25,"r":0.0002943,"d":4.23},
{"v":-98.75,"r":0.0002548,"d":10},{"v":-96.25,"r":0.0002548,"d":10},{"v":-93.75,"r":0.0002548,"d":10},{"v":-91.25,"r":0.0002548,"d":10},{"v":-88.75,"r":0.0002548,"d":10},{"v":-86.25,"r":0.0002548,"d":10},{"v":-83.75,"r":0.0002548,"d":10},{"v":-81.25,"r":0.0002548,"d":10},{"v":-78.75,"r":0.0002548,"d":10},{"v":-76.25,"r":0.0002548,"d":10},{"v":-73.75,"r":0.0002548,"d":10},{"v":-71.25,"r":0.0002548,"d":10},{"v":-68.75,"r":0.0002548,"d":10},{"v":-66.25,"r":0.0002548,"d":10},{"v":-63.75,"r":0.0002548,"d":10},{"v":-61.25,"r":0.0002548,"d":10},{"v":-58.75,"r":0.0002548,"d":10},{"v":-56.25,"r":0.0002548,"d":10},{"v":-53.75,"r":0.0002548,"d":10},{"v":-51.25,"r":0.0002548,"d":10},{"v":-48.75,"r":0.0002548,"d":10},{"v":-46.25,"r":0.0002548,"d":10},{"v":-43.75,"r":0.0002548,"d":10},{"v":-41.25,"r":0.0002548,"d":10},{"v":-38.75,"r":0.0002548,"d":10},{"v":-36.25,"r":0.0002548,"d":10},{"v":-33.75,"r":0.0002548,"d":10},{"v":-31.25,"r":0.0002548,"d":10},{"v":-28.75,"r":0.0002548,"d":10},{"v":-26.25,"r":0.0002548,"d":10},{"v":-23.75,"r":0.0002548,"d":10},{"v":-21.25,"r":0.0002548,"d":10},{"v":-18.75,"r":0.0002548,"d":10},{"v":-16.25,"r":0.0002548,"d":9.74},{"v":-13.75,"r":0.0002548,"d":9.08},{"v":-11.25,"r":0.0002548,"d":8.38},{"v":-8.75,"r":0.0002548,"d":7.6},{"v":-6.25,"r":0.0002548,"d":6.74},{"v":-3.75,"r":0.0002548,"d":5.75},{"v":-1.25,"r":0.0002548,"d":4.55},
{"v":-98.75,"r":0.0002207,"d":10},{"v":-96.25,"r":0.0002207,"d":10},{"v":-93.75,"r":0.0002207,"d":10},{"v":-91.25,"r":0.0002207,"d":10},{"v":-88.75,"r":0.0002207,"d":10},{"v":-86.25,"r":0.0002207,"d":10},{"v":-83.75,"r":0.0002207,"d":10},{"v":-81.25,"r":0.0002207,"d":10},{"v":-78.75,"r":0.0002207,"d":10},{"v":-76.25,"r":0.0002207,"d":10},{"v":-73.75,"r":0.0002207,"d":10},{"v":-71.25,"r":0.0002207,"d":10},{"v":-68.75,"r":0.0002207,"d":10},{"v":-66.25,"r":0.0002207,"d":10},{"v":-63.75,"r":0.0002207,"d":10},{"v":-61.25,"r":0.0002207,"d":10},{"v":-58.75,"r":0.0002207,"d":10},{"v":-56.25,"r":0.0002207,"d":10},{"v":-53.75,"r":0.0002207,"d":10},{"v":-51.25,"r":0.0002207,"d":10},{"v":-48.75,"r":0.0002207,"d":10},{"v":-46.25,"r":0.0002207,"d":10},{"v":-43.75,"r":0.0002207,"d":10},{"v":-41.25,"r":0.0002207,"d":10},{"v":-38.75,"r":0.0002207,"d":10},{"v":-36.25,"r":0.0002207,"d":10},{"v":-33.75,"r":0.0002207,"d":10},{"v":-31.25,"r":0.0002207,"d":10},{"v":-28.75,"r":0.0002207,"d":10},{"v":-26.25,"r":0.0002207,"d":10},{"v":-23.75,"r":0.0002207,"d":10},{"v":-21.25,"r":0.0002207,"d":10},{"v":-18.75,"r":0.0002207,"d":10},{"v":-16.25,"r":0.0002207,"d":10},{"v":-13.75,"r":0.0002207,"d":9.76},{"v":-11.25,"r":0.0002207,"d":9.0},{"v":-8.75,"r":0.0002207,"d":8.17},{"v":-6.25,"r":0.0002207,"d":7.24},{"v":-3.75,"r":0.0002207,"d":6.18},{"v":-1.25,"r":0.0002207,"d":4.89},
{"v":-98.75,"r":0.0001911,"d":10},{"v":-96.25,"r":0.0001911,"d":10},{"v":-93.75,"r":0.0001911,"d":10},{"v":-91.25,"r":0.0001911,"d":10},{"v":-88.75,"r":0.0001911,"d":10},{"v":-86.25,"r":0.0001911,"d":10},{"v":-83.75,"r":0.0001911,"d":10},{"v":-81.25,"r":0.0001911,"d":10},{"v":-78.75,"r":0.0001911,"d":10},{"v":-76.25,"r":0.0001911,"d":10},{"v":-73.75,"r":0.0001911,"d":10},{"v":-71.25,"r":0.0001911,"d":10},{"v":-68.75,"r":0.0001911,"d":10},{"v":-66.25,"r":0.0001911,"d":10},{"v":-63.75,"r":0.0001911,"d":10},{"v":-61.25,"r":0.0001911,"d":10},{"v":-58.75,"r":0.0001911,"d":10},{"v":-56.25,"r":0.0001911,"d":10},{"v":-53.75,"r":0.0001911,"d":10},{"v":-51.25,"r":0.0001911,"d":10},{"v":-48.75,"r":0.0001911,"d":10},{"v":-46.25,"r":0.0001911,"d":10},{"v":-43.75,"r":0.0001911,"d":10},{"v":-41.25,"r":0.0001911,"d":10},{"v":-38.75,"r":0.0001911,"d":10},{"v":-36.25,"r":0.0001911,"d":10},{"v":-33.75,"r":0.0001911,"d":10},{"v":-31.25,"r":0.0001911,"d":10},{"v":-28.75,"r":0.0001911,"d":10},{"v":-26.25,"r":0.0001911,"d":10},{"v":-23.75,"r":0.0001911,"d":10},{"v":-21.25,"r":0.0001911,"d":10},{"v":-18.75,"r":0.0001911,"d":10},{"v":-16.25,"r":0.0001911,"d":10},{"v":-13.75,"r":0.0001911,"d":10},{"v":-11.25,"r":0.0001911,"d":9.67},{"v":-8.75,"r":0.0001911,"d":8.78},{"v":-6.25,"r":0.0001911,"d":7.78},{"v":-3.75,"r":0.0001911,"d":6.64},{"v":-1.25,"r":0.0001911,"d":5.25},
{"v":-98.75,"r":0.0001655,"d":10},{"v":-96.25,"r":0.0001655,"d":10},{"v":-93.75,"r":0.0001655,"d":10},{"v":-91.25,"r":0.0001655,"d":10},{"v":-88.75,"r":0.0001655,"d":10},{"v":-86.25,"r":0.0001655,"d":10},{"v":-83.75,"r":0.0001655,"d":10},{"v":-81.25,"r":0.0001655,"d":10},{"v":-78.75,"r":0.0001655,"d":10},{"v":-76.25,"r":0.0001655,"d":10},{"v":-73.75,"r":0.0001655,"d":10},{"v":-71.25,"r":0.0001655,"d":10},{"v":-68.75,"r":0.0001655,"d":10},{"v":-66.25,"r":0.0001655,"d":10},{"v":-63.75,"r":0.0001655,"d":10},{"v":-61.25,"r":0.0001655,"d":10},{"v":-58.75,"r":0.0001655,"d":10},{"v":-56.25,"r":0.0001655,"d":10},{"v":-53.75,"r":0.0001655,"d":10},{"v":-51.25,"r":0.0001655,"d":10},{"v":-48.75,"r":0.0001655,"d":10},{"v":-46.25,"r":0.0001655,"d":10},{"v":-43.75,"r":0.0001655,"d":10},{"v":-41.25,"r":0.0001655,"d":10},{"v":-38.75,"r":0.0001655,"d":10},{"v":-36.25,"r":0.0001655,"d":10},{"v":-33.75,"r":0.0001655,"d":10},{"v":-31.25,"r":0.0001655,"d":10},{"v":-28.75,"r":0.0001655,"d":10},{"v":-26.25,"r":0.0001655,"d":10},{"v":-23.75,"r":0.0001655,"d":10},{"v":-21.25,"r":0.0001655,"d":10},{"v":-18.75,"r":0.0001655,"d":10},{"v":-16.25,"r":0.0001655,"d":10},{"v":-13.75,"r":0.0001655,"d":10},{"v":-11.25,"r":0.0001655,"d":10},{"v":-8.75,"r":0.0001655,"d":9.43},{"v":-6.25,"r":0.0001655,"d":8.37},{"v":-3.75,"r":0.0001655,"d":7.14},{"v":-1.25,"r":0.0001655,"d":5.64},
{"v":-98.75,"r":0.0001433,"d":10},{"v":-96.25,"r":0.0001433,"d":10},{"v":-93.75,"r":0.0001433,"d":10},{"v":-91.25,"r":0.0001433,"d":10},{"v":-88.75,"r":0.0001433,"d":10},{"v":-86.25,"r":0.0001433,"d":10},{"v":-83.75,"r":0.0001433,"d":10},{"v":-81.25,"r":0.0001433,"d":10},{"v":-78.75,"r":0.0001433,"d":10},{"v":-76.25,"r":0.0001433,"d":10},{"v":-73.75,"r":0.0001433,"d":10},{"v":-71.25,"r":0.0001433,"d":10},{"v":-68.75,"r":0.0001433,"d":10},{"v":-66.25,"r":0.0001433,"d":10},{"v":-63.75,"r":0.0001433,"d":10},{"v":-61.25,"r":0.0001433,"d":10},{"v":-58.75,"r":0.0001433,"d":10},{"v":-56.25,"r":0.0001433,"d":10},{"v":-53.75,"r":0.0001433,"d":10},{"v":-51.25,"r":0.0001433,"d":10},{"v":-48.75,"r":0.0001433,"d":10},{"v":-46.25,"r":0.0001433,"d":10},{"v":-43.75,"r":0.0001433,"d":10},{"v":-41.25,"r":0.0001433,"d":10},{"v":-38.75,"r":0.0001433,"d":10},{"v":-36.25,"r":0.0001433,"d":10},{"v":-33.75,"r":0.0001433,"d":10},{"v":-31.25,"r":0.0001433,"d":10},{"v":-28.75,"r":0.0001433,"d":10},{"v":-26.25,"r":0.0001433,"d":10},{"v":-23.75,"r":0.0001433,"d":10},{"v":-21.25,"r":0.0001433,"d":10},{"v":-18.75,"r":0.0001433,"d":10},{"v":-16.25,"r":0.0001433,"d":10},{"v":-13.75,"r":0.0001433,"d":10},{"v":-11.25,"r":0.0001433,"d":10},{"v":-8.75,"r":0.0001433,"d":10},{"v":-6.25,"r":0.0001433,"d":8.99},{"v":-3.75,"r":0.0001433,"d":7.67},{"v":-1.25,"r":0.0001433,"d":6.07},
{"v":-98.75,"r":0.0001241,"d":10},{"v":-96.25,"r":0.0001241,"d":10},{"v":-93.75,"r":0.0001241,"d":10},{"v":-91.25,"r":0.0001241,"d":10},{"v":-88.75,"r":0.0001241,"d":10},{"v":-86.25,"r":0.0001241,"d":10},{"v":-83.75,"r":0.0001241,"d":10},{"v":-81.25,"r":0.0001241,"d":10},{"v":-78.75,"r":0.0001241,"d":10},{"v":-76.25,"r":0.0001241,"d":10},{"v":-73.75,"r":0.0001241,"d":10},{"v":-71.25,"r":0.0001241,"d":10},{"v":-68.75,"r":0.0001241,"d":10},{"v":-66.25,"r":0.0001241,"d":10},{"v":-63.75,"r":0.0001241,"d":10},{"v":-61.25,"r":0.0001241,"d":10},{"v":-58.75,"r":0.0001241,"d":10},{"v":-56.25,"r":0.0001241,"d":10},{"v":-53.75,"r":0.0001241,"d":10},{"v":-51.25,"r":0.0001241,"d":10},{"v":-48.75,"r":0.0001241,"d":10},{"v":-46.25,"r":0.0001241,"d":10},{"v":-43.75,"r":0.0001241,"d":10},{"v":-41.25,"r":0.0001241,"d":10},{"v":-38.75,"r":0.0001241,"d":10},{"v":-36.25,"r":0.0001241,"d":10},{"v":-33.75,"r":0.0001241,"d":10},{"v":-31.25,"r":0.0001241,"d":10},{"v":-28.75,"r":0.0001241,"d":10},{"v":-26.25,"r":0.0001241,"d":10},{"v":-23.75,"r":0.0001241,"d":10},{"v":-21.25,"r":0.0001241,"d":10},{"v":-18.75,"r":0.0001241,"d":10},{"v":-16.25,"r":0.0001241,"d":10},{"v":-13.75,"r":0.0001241,"d":10},{"v":-11.25,"r":0.0001241,"d":10},{"v":-8.75,"r":0.0001241,"d":10},{"v":-6.25,"r":0.0001241,"d":9.66},{"v":-3.75,"r":0.0001241,"d":8.24},{"v":-1.25,"r":0.0001241,"d":6.52},
{"v":-98.75,"r":0.0001075,"d":10},{"v":-96.25,"r":0.0001075,"d":10},{"v":-93.75,"r":0.0001075,"d":10},{"v":-91.25,"r":0.0001075,"d":10},{"v":-88.75,"r":0.0001075,"d":10},{"v":-86.25,"r":0.0001075,"d":10},{"v":-83.75,"r":0.0001075,"d":10},{"v":-81.25,"r":0.0001075,"d":10},{"v":-78.75,"r":0.0001075,"d":10},{"v":-76.25,"r":0.0001075,"d":10},{"v":-73.75,"r":0.0001075,"d":10},{"v":-71.25,"r":0.0001075,"d":10},{"v":-68.75,"r":0.0001075,"d":10},{"v":-66.25,"r":0.0001075,"d":10},{"v":-63.75,"r":0.0001075,"d":10},{"v":-61.25,"r":0.0001075,"d":10},{"v":-58.75,"r":0.0001075,"d":10},{"v":-56.25,"r":0.0001075,"d":10},{"v":-53.75,"r":0.0001075,"d":10},{"v":-51.25,"r":0.0001075,"d":10},{"v":-48.75,"r":0.0001075,"d":10},{"v":-46.25,"r":0.0001075,"d":10},{"v":-43.75,"r":0.0001075,"d":10},{"v":-41.25,"r":0.0001075,"d":10},{"v":-38.75,"r":0.0001075,"d":10},{"v":-36.25,"r":0.0001075,"d":10},{"v":-33.75,"r":0.0001075,"d":10},{"v":-31.25,"r":0.0001075,"d":10},{"v":-28.75,"r":0.0001075,"d":10},{"v":-26.25,"r":0.0001075,"d":10},{"v":-23.75,"r":0.0001075,"d":10},{"v":-21.25,"r":0.0001075,"d":10},{"v":-18.75,"r":0.0001075,"d":10},{"v":-16.25,"r":0.0001075,"d":10},{"v":-13.75,"r":0.0001075,"d":10},{"v":-11.25,"r":0.0001075,"d":10},{"v":-8.75,"r":0.0001075,"d":10},{"v":-6.25,"r":0.0001075,"d":10},{"v":-3.75,"r":0.0001075,"d":8.86},{"v":-1.25,"r":0.0001075,"d":7.0}
    ]
  },
  "hconcat": [
    {
      "vconcat": [
        {
          "width": 175, "height": 36,
          "view": {"stroke": null},
          "title": {"text": "(a)", "orient": "top", "anchor": "start", "frame": "group", "offset": 0, "dx": -105, "dy": 41, "baseline": "alphabetic", "font": "Open Sans", "fontSize": 20, "fontWeight": "bold", "color": "#000"},
          "data": {"name": "keys"},
          "encoding": {
            "x": {"field": "key", "type": "nominal", "scale": {"type": "point", "domain": ["Na", "Nn", "Nd"], "padding": 0.636, "align": 0.334}, "axis": null},
            "color": {"field": "key", "type": "nominal", "scale": {"domain": ["Na", "Nn", "Nd"], "range": ["#ff7f0e", "#aaaaaa", "#2ca02c"]}, "legend": null}
          },
          "layer": [
            {"mark": {"type": "point", "shape": "stroke", "size": 324, "strokeWidth": 1.6, "filled": false, "opacity": 1}},
            {"mark": {"type": "text", "align": "left", "baseline": "alphabetic", "xOffset": 15, "yOffset": 6, "font": "Liberation Serif, Times New Roman, DejaVu Serif, serif", "fontStyle": "italic", "fontSize": 18}, "encoding": {"text": {"field": "base"}, "color": {"value": "#222"}}},
            {"mark": {"type": "text", "align": "left", "baseline": "alphabetic", "xOffset": 27, "yOffset": 9, "font": "Liberation Serif, Times New Roman, DejaVu Serif, serif", "fontStyle": "italic", "fontSize": 13}, "encoding": {"text": {"field": "sub"}, "color": {"value": "#222"}}}
          ]
        },
        {
          "width": 175, "height": 69,
          "layer": [
            {
              "data": {"name": "gA"},
              "mark": {"type": "line", "color": "#0a0ac8", "strokeWidth": 1.5, "clip": true},
              "encoding": {
                "x": {"field": "it", "type": "quantitative", "scale": {"domain": [-35, 638], "nice": false, "zero": false}, "axis": null},
                "y": {"field": "g", "type": "quantitative", "scale": {"type": "log", "domain": [0.325, 13.06], "nice": false},
                  "axis": {"title": ["Γ", "(MHz)"], "labelOverlap": false,
                    "values": [0.4, 0.5, 0.6, 0.7, 0.8, 0.9, 1, 2, 3, 4, 5, 6, 7, 8, 9, 10],
                    "labelExpr": "datum.value == 1 ? '10⁰' : datum.value == 10 ? '10¹' : ''",
                    "tickSize": {"condition": {"test": "datum.value != 1 && datum.value != 10", "value": 2.5}, "value": 4}}}
              }
            },
            {"data": {"name": "icA"}, "mark": {"type": "rule", "color": "#333", "strokeDash": [5, 3], "strokeWidth": 1.1}, "encoding": {"x": {"field": "ic", "type": "quantitative"}}}
          ]
        },
        {
          "width": 175, "height": 70,
          "layer": [
            {
              "data": {"name": "dA"},
              "mark": {"type": "line", "strokeWidth": 1.5, "clip": true},
              "encoding": {
                "x": {"field": "it", "type": "quantitative", "scale": {"domain": [-35, 638], "nice": false, "zero": false}, "axis": null},
                "y": {"field": "n", "type": "quantitative", "scale": {"type": "log", "domain": [4.9e13, 2.04e19], "nice": false},
                  "axis": {"title": ["Densities", "(cm⁻³)"], "labelOverlap": false,
                    "values": [1e14, 1e15, 1e16, 1e17, 1e18, 1e19],
                    "labelExpr": "datum.value == 1e15 ? '10¹⁵' : datum.value == 1e18 ? '10¹⁸' : ''"}},
                "color": {"field": "key", "type": "nominal", "scale": {"domain": ["Na", "Nn", "Nd"], "range": ["#ff7f0e", "#aaaaaa", "#2ca02c"]}, "legend": null}
              }
            },
            {"data": {"name": "icA"}, "mark": {"type": "rule", "color": "#333", "strokeDash": [5, 3], "strokeWidth": 1.1}, "encoding": {"x": {"field": "ic", "type": "quantitative"}}}
          ]
        },
        {
          "width": 175, "height": 70,
          "layer": [
            {
              "data": {"name": "zA"},
              "mark": {"type": "line", "color": "#9f9fff", "strokeWidth": 1.5, "clip": true},
              "encoding": {
                "x": {"field": "it", "type": "quantitative", "scale": {"domain": [-35, 638], "nice": false, "zero": false},
                  "axis": {"title": "Iterations", "values": [0, 200, 400, 600]}},
                "y": {"field": "z", "type": "quantitative", "scale": {"domain": [0.75, 4.67], "nice": false, "zero": false},
                  "axis": {"title": ["z_def", "(μm)"], "values": [2, 4], "labelOverlap": false}}
              }
            },
            {
              "data": {"name": "zA"},
              "mark": {"type": "line", "opacity": 0},
              "encoding": {
                "x": {"field": "it", "type": "quantitative"},
                "y": {"field": "z", "type": "quantitative", "scale": {"domain": [0.75, 4.67], "nice": false, "zero": false},
                  "axis": {"orient": "left", "title": null, "labels": false, "tickSize": 2.5, "minExtent": 0, "maxExtent": 0, "values": [1, 1.5, 2.5, 3, 3.5, 4.5]}}
              }
            },
            {"data": {"name": "icA"}, "mark": {"type": "rule", "color": "#333", "strokeDash": [5, 3], "strokeWidth": 1.1}, "encoding": {"x": {"field": "ic", "type": "quantitative"}}},
            {"data": {"name": "icA"}, "mark": {"type": "text", "text": "i", "align": "left", "baseline": "alphabetic", "xOffset": 5, "font": "Liberation Serif, Times New Roman, DejaVu Serif, serif", "fontStyle": "italic", "fontSize": 19, "color": "#222"},
              "encoding": {"x": {"field": "ic", "type": "quantitative"}, "y": {"datum": 1.25, "scale": {"domain": [0.75, 4.67], "nice": false, "zero": false}, "axis": null}}},
            {"data": {"name": "icA"}, "mark": {"type": "text", "text": "c", "align": "left", "baseline": "alphabetic", "xOffset": 10, "yOffset": 3, "font": "Liberation Serif, Times New Roman, DejaVu Serif, serif", "fontStyle": "italic", "fontSize": 13, "color": "#222"},
              "encoding": {"x": {"field": "ic", "type": "quantitative"}, "y": {"datum": 1.25, "scale": {"domain": [0.75, 4.67], "nice": false, "zero": false}, "axis": null}}}
          ],
          "resolve": {"scale": {"y": "independent"}, "axis": {"y": "independent"}}
        }
      ],
      "spacing": 1,
      "bounds": "flush"
    },
    {
      "vconcat": [
        {
          "width": 203, "height": 36,
          "view": {"stroke": null},
          "title": {"text": "(b)", "orient": "top", "anchor": "start", "frame": "group", "offset": 0, "dx": -102, "dy": 41, "baseline": "alphabetic", "font": "Open Sans", "fontSize": 20, "fontWeight": "bold", "color": "#000"},
          "data": {"name": "keys"},
          "encoding": {
            "x": {"field": "key", "type": "nominal", "scale": {"type": "point", "domain": ["Na", "Nn", "Nd"], "padding": 0.89, "align": 0.26}, "axis": null},
            "color": {"field": "key", "type": "nominal", "scale": {"domain": ["Na", "Nn", "Nd"], "range": ["#ff7f0e", "#aaaaaa", "#2ca02c"]}, "legend": null}
          },
          "layer": [
            {"mark": {"type": "point", "shape": "stroke", "size": 324, "strokeWidth": 1.6, "filled": false, "opacity": 1}},
            {"mark": {"type": "text", "align": "left", "baseline": "alphabetic", "xOffset": 13, "yOffset": 6, "font": "Liberation Serif, Times New Roman, DejaVu Serif, serif", "fontStyle": "italic", "fontSize": 18}, "encoding": {"text": {"field": "base"}, "color": {"value": "#222"}}},
            {"mark": {"type": "text", "align": "left", "baseline": "alphabetic", "xOffset": 25, "yOffset": 9, "font": "Liberation Serif, Times New Roman, DejaVu Serif, serif", "fontStyle": "italic", "fontSize": 13}, "encoding": {"text": {"field": "sub"}, "color": {"value": "#222"}}}
          ]
        },
        {
          "width": 180, "height": 69,
          "layer": [
            {
              "data": {"name": "gB"},
              "mark": {"type": "line", "color": "#0a0ac8", "strokeWidth": 1.5, "clip": true},
              "encoding": {
                "x": {"field": "it", "type": "quantitative", "scale": {"domain": [-41, 882], "nice": false, "zero": false}, "axis": null},
                "y": {"field": "g", "type": "quantitative", "scale": {"type": "log", "domain": [0.135, 20000], "nice": false},
                  "axis": {"title": ["Γ", "(MHz)"], "labelFontSize": 14, "labelOverlap": false,
                    "values": [0.2, 0.3, 0.4, 0.5, 0.6, 0.7, 0.8, 0.9, 1, 2, 3, 4, 5, 6, 7, 8, 9, 10, 20, 30, 40, 50, 60, 70, 80, 90, 100, 200, 300, 400, 500, 600, 700, 800, 900, 1000, 2000, 3000, 4000, 5000, 6000, 7000, 8000, 9000, 10000],
                    "labelExpr": "datum.value == 1 ? '10⁰' : datum.value == 10 ? '10¹' : datum.value == 100 ? '10²' : datum.value == 1000 ? '10³' : ''",
                    "tickSize": {"condition": {"test": "datum.value != 1 && datum.value != 10 && datum.value != 100 && datum.value != 1000 && datum.value != 10000", "value": 2.5}, "value": 4}}}
              }
            },
            {"data": {"name": "icB"}, "mark": {"type": "rule", "color": "#333", "strokeDash": [5, 3], "strokeWidth": 1.1}, "encoding": {"x": {"field": "ic", "type": "quantitative"}}}
          ]
        },
        {
          "width": 180, "height": 70,
          "layer": [
            {
              "data": {"name": "dB"},
              "mark": {"type": "line", "strokeWidth": 1.5, "clip": true},
              "encoding": {
                "x": {"field": "it", "type": "quantitative", "scale": {"domain": [-41, 882], "nice": false, "zero": false}, "axis": null},
                "y": {"field": "n", "type": "quantitative", "scale": {"type": "log", "domain": [4.9e13, 2.04e19], "nice": false},
                  "axis": {"title": ["Densities", "(cm⁻³)"], "labelOverlap": false,
                    "values": [1e14, 1e15, 1e16, 1e17, 1e18, 1e19],
                    "labelExpr": "datum.value == 1e15 ? '10¹⁵' : datum.value == 1e18 ? '10¹⁸' : ''"}},
                "color": {"field": "key", "type": "nominal", "scale": {"domain": ["Na", "Nn", "Nd"], "range": ["#ff7f0e", "#aaaaaa", "#2ca02c"]}, "legend": null}
              }
            },
            {"data": {"name": "icB"}, "mark": {"type": "rule", "color": "#333", "strokeDash": [5, 3], "strokeWidth": 1.1}, "encoding": {"x": {"field": "ic", "type": "quantitative"}}}
          ]
        },
        {
          "width": 180, "height": 70,
          "layer": [
            {
              "data": {"name": "zB"},
              "mark": {"type": "line", "color": "#9f9fff", "strokeWidth": 1.5, "clip": true},
              "encoding": {
                "x": {"field": "it", "type": "quantitative", "scale": {"domain": [-41, 882], "nice": false, "zero": false},
                  "axis": {"title": "Iterations", "values": [0, 200, 400, 600, 800]}},
                "y": {"field": "z", "type": "quantitative", "scale": {"domain": [-0.21, 4.79], "nice": false, "zero": false},
                  "axis": {"title": ["z_def", "(μm)"], "values": [0, 2, 4], "labelOverlap": false}}
              }
            },
            {
              "data": {"name": "zB"},
              "mark": {"type": "line", "opacity": 0},
              "encoding": {
                "x": {"field": "it", "type": "quantitative"},
                "y": {"field": "z", "type": "quantitative", "scale": {"domain": [-0.21, 4.79], "nice": false, "zero": false},
                  "axis": {"orient": "left", "title": null, "labels": false, "tickSize": 2.5, "minExtent": 0, "maxExtent": 0, "values": [0.5, 1, 1.5, 2.5, 3, 3.5, 4.5]}}
              }
            },
            {"data": {"name": "icB"}, "mark": {"type": "rule", "color": "#333", "strokeDash": [5, 3], "strokeWidth": 1.1}, "encoding": {"x": {"field": "ic", "type": "quantitative"}}},
            {"data": {"name": "icB"}, "mark": {"type": "text", "text": "i", "align": "left", "baseline": "alphabetic", "xOffset": 4, "font": "Liberation Serif, Times New Roman, DejaVu Serif, serif", "fontStyle": "italic", "fontSize": 19, "color": "#222"},
              "encoding": {"x": {"field": "ic", "type": "quantitative"}, "y": {"datum": 0.43, "scale": {"domain": [-0.21, 4.79], "nice": false, "zero": false}, "axis": null}}},
            {"data": {"name": "icB"}, "mark": {"type": "text", "text": "c", "align": "left", "baseline": "alphabetic", "xOffset": 9, "yOffset": 3, "font": "Liberation Serif, Times New Roman, DejaVu Serif, serif", "fontStyle": "italic", "fontSize": 13, "color": "#222"},
              "encoding": {"x": {"field": "ic", "type": "quantitative"}, "y": {"datum": 0.43, "scale": {"domain": [-0.21, 4.79], "nice": false, "zero": false}, "axis": null}}}
          ],
          "resolve": {"scale": {"y": "independent"}, "axis": {"y": "independent"}}
        }
      ],
      "spacing": 1,
      "bounds": "flush"
    },
    {
      "vconcat": [
        {
          "width": 225, "height": 36,
          "view": {"stroke": null},
          "title": {"text": "(c)", "orient": "top", "anchor": "start", "frame": "group", "offset": 0, "dx": -76, "dy": 51, "baseline": "alphabetic", "font": "Open Sans", "fontSize": 20, "fontWeight": "bold", "color": "#000"},
          "data": {"values": []},
          "mark": "text",
          "encoding": {"text": {"field": "t", "type": "nominal"}}
        },
        {
          "width": 225, "height": 209,
          "view": {"stroke": "#000", "strokeWidth": 2},
          "title": {"text": "8", "orient": "top", "anchor": "end", "frame": "group", "offset": 0, "dx": 110, "dy": -39, "baseline": "alphabetic", "font": "Liberation Serif, Times New Roman, DejaVu Serif, serif", "fontSize": 15, "fontWeight": "normal", "color": "#222"},
          "data": {"name": "heat"},
          "layer": [
            {
              "mark": {"type": "rect", "width": 6.0, "height": 6.9, "clip": true},
              "encoding": {
                "x": {"field": "v", "type": "quantitative", "scale": {"domain": [-100, 0], "nice": false, "zero": false},
                  "axis": {"title": "Reverse Bias Voltage (V)", "values": [-100, -80, -60, -40, -20, 0], "labelPadding": 4, "titlePadding": 6}},
                "y": {"field": "r", "type": "quantitative", "scale": {"type": "log", "domain": [0.0001, 0.01], "nice": false},
                  "axis": {"title": "Nₙ/Nₐ", "titleFontSize": 20, "titleFontStyle": "italic", "minExtent": 44, "maxExtent": 44, "titlePadding": 12, "labelOverlap": false,
                    "values": [0.0001, 0.0002, 0.0003, 0.0004, 0.0005, 0.0006, 0.0007, 0.0008, 0.0009, 0.001, 0.002, 0.003, 0.004, 0.005, 0.006, 0.007, 0.008, 0.009, 0.01],
                    "labelExpr": "datum.value == 0.01 ? '10⁻²' : datum.value == 0.001 ? '10⁻³' : datum.value == 0.0001 ? '10⁻⁴' : ''",
                    "tickSize": {"condition": {"test": "datum.value != 0.01 && datum.value != 0.001 && datum.value != 0.0001", "value": 3}, "value": 4.5}}},
                "color": {"field": "d", "type": "quantitative", "scale": {"scheme": "viridis", "domain": [0.8, 10.1], "clamp": true},
                  "legend": {"orient": "none", "legendX": 245, "legendY": 2, "direction": "vertical", "title": null,
                    "gradientLength": 207, "gradientThickness": 10.5, "values": [2.5, 5, 7.5, 10], "format": ".1f",
                    "labelFont": "Liberation Serif, Times New Roman, DejaVu Serif, serif", "labelFontSize": 17.5, "labelColor": "#222", "labelOffset": 9, "labelBaseline": "middle",
                    "gradientStrokeColor": "#000", "gradientStrokeWidth": 0.8}}
              }
            },
            {
              "mark": {"type": "point", "opacity": 0},
              "encoding": {
                "y": {"field": "d", "type": "quantitative", "scale": {"domain": [0.8, 10.19], "nice": false, "zero": false},
                  "axis": {"orient": "right", "offset": 31, "values": [2.5, 5, 7.5, 10], "labels": false, "ticks": true, "tickSize": 3.5, "tickColor": "#000", "domain": false,
                    "minExtent": 0, "maxExtent": 0, "title": "d̃ₙ (μm)", "titlePadding": 56, "titleAngle": 270, "titleBaseline": "top", "titleFontSize": 20}}
              }
            }
          ],
          "resolve": {"scale": {"y": "independent"}, "axis": {"y": "independent"}}
        }
      ],
      "spacing": 1,
      "bounds": "flush",
      "resolve": {"scale": {"color": "independent"}, "legend": {"color": "independent"}}
    }
  ],
  "config": {
    "font": "Liberation Serif, Times New Roman, DejaVu Serif, serif",
    "view": {"stroke": "#000", "strokeWidth": 1},
    "axis": {
      "domain": false, "grid": false,
      "labelFont": "Liberation Serif, Times New Roman, DejaVu Serif, serif", "labelFontSize": 17.5, "labelColor": "#222", "labelPadding": 3, "labelOverlap": false,
      "tickColor": "#000", "tickSize": 4, "tickWidth": 1,
      "titleFont": "Liberation Serif, Times New Roman, DejaVu Serif, serif", "titleFontWeight": "normal", "titleColor": "#222"
    },
    "axisY": {"titleFontSize": 18, "titleLineHeight": 22, "minExtent": 40, "maxExtent": 40, "titlePadding": 8},
    "axisX": {"titleFontSize": 21, "labelPadding": 8, "titlePadding": 4, "labelFlush": false}
  }
}
